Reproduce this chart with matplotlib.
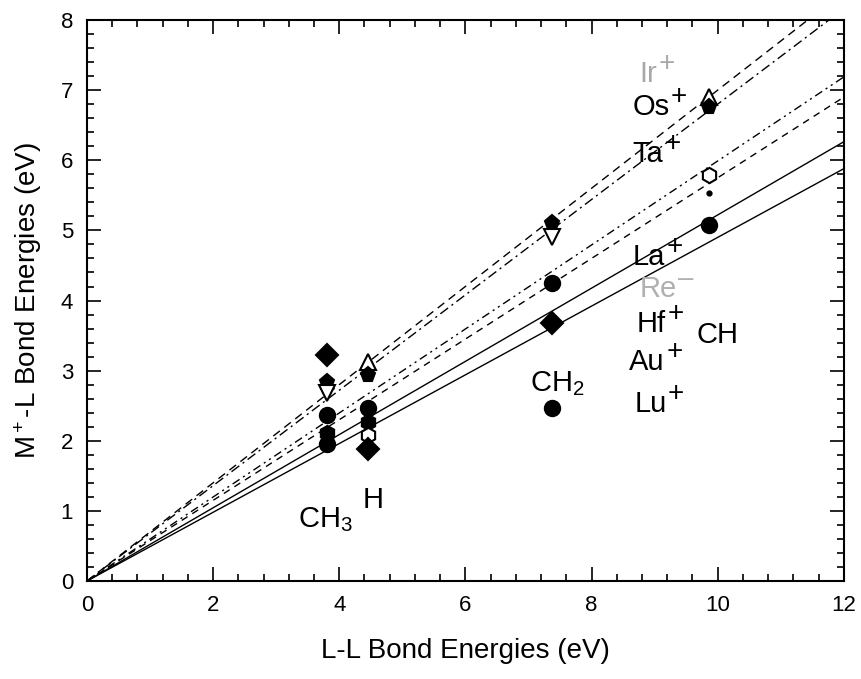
import matplotlib
matplotlib.use("Agg")
import matplotlib.pyplot as plt
from matplotlib.ticker import MultipleLocator

plt.rcParams['font.family'] = ['Liberation Sans', 'DejaVu Sans']
plt.rcParams['mathtext.fontset'] = 'custom'
plt.rcParams['mathtext.rm'] = 'Liberation Sans'
plt.rcParams['mathtext.it'] = 'Liberation Sans:italic'
plt.rcParams['mathtext.bf'] = 'Liberation Sans:bold'

# ---- data ----
# fitted lines through origin (slopes), styles
line_slopes = [0.700, 0.680, 0.599, 0.575, 0.522, 0.490]
line_styles = [(0, (6, 4)), (0, (7, 3, 1.5, 3)), (0, (6, 3, 1.5, 3, 1.5, 3)),
               (0, (5, 4)), '-', '-']

# data points: L-L bond energy, M+-L bond energy, marker, filled
pts_x = [3.80, 3.80, 3.80, 3.80, 3.80, 3.80,
         4.45, 4.45, 4.45, 4.45, 4.45, 4.45,
         7.38, 7.38, 7.38, 7.38, 7.38,
         9.87, 9.87, 9.87, 9.87, 9.87]
pts_y = [3.22, 2.84, 2.68, 2.37, 2.11, 1.95,
         3.12, 2.94, 2.47, 2.27, 2.08, 1.88,
         5.11, 4.91, 4.25, 3.68, 2.47,
         6.90, 6.76, 5.79, 5.53, 5.08]
pts_marker = ['D', 'p', 'v', 'o', 'h', 'o',
              '^', 'p', 'o', 'h', 'h', 'D',
              'p', 'v', 'o', 'D', 'o',
              '^', 'p', 'h', '.', 'o']
pts_filled = [True, True, False, True, True, True,
              False, True, True, True, False, True,
              True, False, True, True, True,
              False, True, False, True, True]

# ion labels (base text, charge, x, y, color)
ion_labels = [
    ('Ir', '+', 8.76, 7.12, '#a8a8a8'),
    ('Os', '+', 8.65, 6.65, 'black'),
    ('Ta', '+', 8.65, 5.98, 'black'),
    ('La', '+', 8.65, 4.51, 'black'),
    ('Re', '\u2013', 8.76, 4.05, '#b0b0b0'),
    ('Hf', '+', 8.72, 3.55, 'black'),
    ('Au', '+', 8.60, 3.01, 'black'),
    ('Lu', '+', 8.68, 2.41, 'black'),
]
# ligand labels (text, x, y)
ligand_labels = [
    (r'CH$_3$', 3.34, 0.77),
    ('H', 4.37, 1.04),
    (r'CH$_2$', 7.02, 2.71),
    ('CH', 9.67, 3.40),
]

xlim = (0, 12)
ylim = (0, 8)

# ---- figure ----
fig = plt.figure(figsize=(8.61, 6.79), dpi=100)
ax = fig.add_axes([0.101, 0.1443, 0.879, 0.8262])

for s, ls in zip(line_slopes, line_styles):
    ax.plot([0, 12], [0, 12 * s], color='black', lw=1.0, linestyle=ls)

for x, y, m, f in zip(pts_x, pts_y, pts_marker, pts_filled):
    ms = 6 if m == '.' else 11
    ax.plot([x], [y], marker=m, markersize=ms, linestyle='none',
            markerfacecolor='black' if f else 'white',
            markeredgecolor='black', markeredgewidth=1.5, zorder=3)

for base, ch, x, y, c in ion_labels:
    t = ax.text(x, y, base, fontsize=21, color=c, ha='left', va='baseline')
    ax.annotate(ch, xy=(1.0, 0.85), xycoords=t, fontsize=20, color=c,
                ha='left', va='center', xytext=(1, 0),
                textcoords='offset points')

for t, x, y in ligand_labels:
    ax.text(x, y, t, fontsize=21, color='black', ha='left', va='baseline')

ax.set_xlim(*xlim)
ax.set_ylim(*ylim)
ax.xaxis.set_major_locator(MultipleLocator(2))
ax.xaxis.set_minor_locator(MultipleLocator(0.4))
ax.yaxis.set_major_locator(MultipleLocator(1))
ax.yaxis.set_minor_locator(MultipleLocator(0.2))
ax.tick_params(which='both', direction='in', top=True, right=True,
               width=1.2, labelsize=16, pad=10)
ax.tick_params(which='major', length=10)
ax.tick_params(which='minor', length=5)
for sp in ax.spines.values():
    sp.set_linewidth(1.5)

ax.set_xlabel('L-L Bond Energies (eV)', fontsize=20, labelpad=16)
ax.set_ylabel(r'M$^+$-L Bond Energies (eV)', fontsize=20, labelpad=12)

fig.savefig('out.png', dpi=100)
